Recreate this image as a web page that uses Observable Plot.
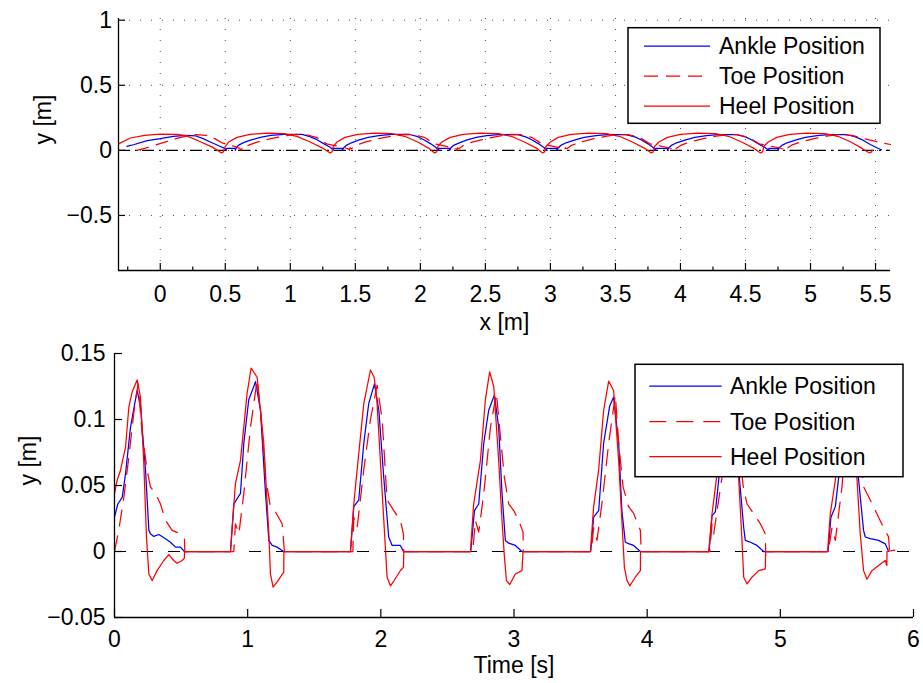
<!DOCTYPE html>
<html><head><meta charset="utf-8">
<script src="https://cdn.jsdelivr.net/npm/d3@7"></script>
<script src="https://cdn.jsdelivr.net/npm/@observablehq/plot@0.6"></script>
<style>
body{margin:0;background:#fff;}
#wrap{position:relative;width:923px;height:683px;font-family:"Liberation Sans",Arial,Helvetica,sans-serif;}
#wrap svg{display:block;}
#legend{position:absolute;left:0;top:0;pointer-events:none;}
</style></head><body><div id="wrap"></div>
<script>
// ---------- Data ----------
const seriesNames = ["Ankle Position", "Toe Position", "Heel Position"];
const seriesColors = ["#0000ff", "#ff0000", "#ff0000"];

// Top panel: foot trajectories, [x (m), y (m)]
const ankleXY = [
 [-0.256,0.031],[-0.2,0.045],[-0.1,0.075],[0,0.09],[0.1,0.108],[0.2,0.116],[0.27,0.112],[0.33,0.09],[0.385,0.064],[0.45,0.035],[0.495,0.015],[0.508,0],[0.508,0.015],[0.577,0.015],[0.577,0],
 [0.585,0.02],[0.6,0.038],[0.64,0.059],[0.7,0.08],[0.77,0.1],[0.85,0.115],[0.95,0.123],[1.09,0.123],[1.15,0.105],[1.205,0.082],[1.26,0.05],[1.31,0.022],[1.33,0],[1.33,0.015],[1.4,0.015],[1.4,0],
 [1.41,0.02],[1.43,0.038],[1.47,0.058],[1.53,0.08],[1.6,0.1],[1.68,0.114],[1.78,0.122],[1.92,0.122],[1.98,0.105],[2.03,0.08],[2.08,0.05],[2.12,0.022],[2.14,0],[2.14,0.015],[2.225,0.015],[2.225,0],
 [2.235,0.02],[2.255,0.038],[2.3,0.058],[2.36,0.08],[2.43,0.1],[2.51,0.113],[2.6,0.121],[2.75,0.121],[2.81,0.104],[2.86,0.08],[2.91,0.05],[2.95,0.022],[2.97,0],[2.97,0.015],[3.05,0.015],[3.05,0],
 [3.06,0.02],[3.08,0.038],[3.12,0.058],[3.19,0.08],[3.26,0.1],[3.35,0.113],[3.44,0.12],[3.58,0.12],[3.65,0.104],[3.7,0.08],[3.75,0.05],[3.79,0.022],[3.81,0],[3.81,0.015],[3.9,0.015],[3.9,0],
 [3.91,0.02],[3.93,0.038],[3.97,0.058],[4.04,0.08],[4.11,0.1],[4.2,0.113],[4.29,0.12],[4.43,0.12],[4.5,0.104],[4.55,0.08],[4.6,0.05],[4.65,0.022],[4.68,0],[4.68,0.015],[4.75,0.015],[4.75,0],
 [4.76,0.02],[4.78,0.038],[4.82,0.058],[4.89,0.08],[4.96,0.1],[5.05,0.113],[5.14,0.12],[5.28,0.12],[5.34,0.105],[5.4,0.08],[5.46,0.045],[5.51,0.02],[5.545,0.005]
];
const toeXY = [
 [-0.18,0],[-0.12,0.015],[-0.04,0.04],[0.04,0.065],[0.12,0.09],[0.2,0.11],[0.28,0.12],[0.35,0.115],[0.42,0.09],[0.47,0.06],[0.52,0.045],[0.57,0.03],[0.61,0.015],[0.625,0],
 [0.63,0.02],[0.64,0.013],[0.68,0.04],[0.75,0.065],[0.85,0.09],[0.95,0.11],[1.05,0.122],[1.12,0.12],[1.2,0.1],[1.28,0.05],[1.35,0.035],[1.42,0.02],[1.45,0.01],[1.455,0],
 [1.46,0.02],[1.47,0.013],[1.51,0.04],[1.58,0.065],[1.68,0.09],[1.78,0.11],[1.88,0.122],[1.95,0.12],[2.03,0.1],[2.11,0.05],[2.18,0.035],[2.25,0.02],[2.275,0.01],[2.28,0],
 [2.285,0.02],[2.295,0.013],[2.335,0.04],[2.405,0.065],[2.505,0.09],[2.605,0.11],[2.705,0.122],[2.775,0.12],[2.855,0.1],[2.935,0.05],[3.005,0.035],[3.075,0.02],[3.1,0.01],[3.11,0],
 [3.115,0.02],[3.125,0.013],[3.165,0.04],[3.235,0.065],[3.335,0.09],[3.435,0.11],[3.535,0.122],[3.605,0.12],[3.685,0.1],[3.765,0.05],[3.84,0.035],[3.91,0.02],[3.94,0.01],[3.95,0],
 [3.955,0.02],[3.965,0.013],[4.005,0.04],[4.075,0.065],[4.175,0.09],[4.275,0.11],[4.375,0.122],[4.445,0.12],[4.525,0.1],[4.605,0.05],[4.68,0.035],[4.76,0.02],[4.79,0.01],[4.8,0],
 [4.805,0.02],[4.815,0.013],[4.855,0.04],[4.925,0.065],[5.025,0.09],[5.125,0.11],[5.225,0.122],[5.32,0.115],[5.45,0.08],[5.615,0.045]
];
const heelXY = [
 [-0.32,0.05],[-0.23,0.095],[-0.12,0.115],[0,0.125],[0.13,0.122],[0.2,0.113],[0.3,0.07],[0.4,0.025],[0.46,-0.013],[0.47,-0.02],[0.485,-0.012],[0.49,0],
 [0.5,0.03],[0.526,0.064],[0.59,0.1],[0.69,0.123],[0.82,0.133],[0.95,0.128],[1.05,0.108],[1.154,0.064],[1.256,0.013],[1.295,-0.013],[1.305,-0.02],[1.32,-0.012],[1.325,0],
 [1.33,0.03],[1.36,0.064],[1.42,0.1],[1.52,0.123],[1.65,0.132],[1.78,0.128],[1.88,0.108],[1.98,0.064],[2.07,0.013],[2.1,-0.013],[2.11,-0.02],[2.125,-0.012],[2.13,0],
 [2.135,0.03],[2.165,0.064],[2.23,0.1],[2.33,0.123],[2.46,0.132],[2.6,0.128],[2.7,0.108],[2.8,0.064],[2.9,0.013],[2.93,-0.013],[2.94,-0.02],[2.955,-0.012],[2.96,0],
 [2.965,0.03],[3.0,0.064],[3.06,0.1],[3.16,0.123],[3.29,0.132],[3.43,0.128],[3.53,0.108],[3.63,0.064],[3.73,0.013],[3.765,-0.013],[3.775,-0.02],[3.79,-0.012],[3.795,0],
 [3.8,0.03],[3.835,0.064],[3.9,0.1],[4.0,0.123],[4.13,0.132],[4.27,0.128],[4.37,0.108],[4.47,0.064],[4.57,0.013],[4.605,-0.013],[4.615,-0.02],[4.63,-0.012],[4.635,0],
 [4.64,0.03],[4.675,0.064],[4.74,0.1],[4.84,0.123],[4.97,0.132],[5.11,0.128],[5.21,0.108],[5.31,0.064],[5.4,0.013],[5.44,-0.013],[5.455,-0.02],[5.47,-0.012],[5.475,0]
];

// Bottom panel: height vs time, [t (s), y (m)]
const ankleT = [
 [0,0.026],[0.025,0.036],[0.058,0.041],[0.083,0.059],[0.12,0.094],[0.17,0.122],[0.195,0.11],[0.233,0.0616],[0.258,0.016],[0.27,0.0134],[0.295,0.0114],[0.333,0.0129],[0.383,0.0096],[0.42,0.007],[0.458,0.0033],[0.495,0.0033],[0.525,0],
 [0.871,0],[0.896,0.036],[0.946,0.044],[0.971,0.082],[1.008,0.115],[1.059,0.1287],[1.096,0.107],[1.134,0.044],[1.159,0.0084],[1.184,0.0046],[1.221,0.0033],[1.27,0],
 [1.772,0],[1.797,0.034],[1.834,0.039],[1.872,0.082],[1.909,0.112],[1.952,0.127],[1.985,0.107],[2.022,0.056],[2.059,0.011],[2.085,0.0046],[2.147,0.0046],[2.17,0],
 [2.675,0],[2.703,0.031],[2.735,0.036],[2.773,0.082],[2.81,0.107],[2.853,0.1185],[2.885,0.094],[2.91,0.044],[2.935,0.0084],[2.96,0.0063],[3.01,0.0046],[3.06,0],
 [3.576,0],[3.598,0.026],[3.636,0.031],[3.673,0.082],[3.718,0.11],[3.748,0.117],[3.786,0.082],[3.81,0.031],[3.836,0.007],[3.86,0.006],[3.898,0.0046],[3.949,0],
 [4.465,0],[4.487,0.027],[4.512,0.03],[4.537,0.054],[4.58,0.1],[4.625,0.122],[4.66,0.1],[4.694,0.054],[4.725,0.018],[4.737,0.0084],[4.775,0.007],[4.825,0.0046],[4.875,0],
 [5.358,0],[5.38,0.026],[5.413,0.034],[5.438,0.056],[5.48,0.1],[5.52,0.125],[5.555,0.1],[5.588,0.054],[5.625,0.016],[5.638,0.011],[5.675,0.0097],[5.738,0.0084],[5.788,0.0058],[5.813,0]
];
const toeT = [
 [0,0],[0.032,0.016],[0.07,0.041],[0.108,0.0717],[0.145,0.105],[0.177,0.127],[0.208,0.089],[0.245,0.0616],[0.27,0.049],[0.308,0.044],[0.345,0.036],[0.383,0.0236],[0.433,0.016],[0.495,0.0134],[0.525,0.0097],[0.528,0],
 [0.896,0],[0.908,0.021],[0.934,0.0134],[0.971,0.044],[1.021,0.094],[1.071,0.13],[1.096,0.107],[1.134,0.056],[1.171,0.0337],[1.209,0.03],[1.259,0.021],[1.276,0],
 [1.79,0],[1.797,0.026],[1.822,0.018],[1.872,0.062],[1.922,0.1],[1.972,0.126],[2.01,0.1],[2.047,0.039],[2.097,0.031],[2.147,0.0236],[2.17,0.013],[2.172,0],
 [2.69,0],[2.71,0.0236],[2.735,0.0147],[2.773,0.044],[2.823,0.094],[2.868,0.12],[2.898,0.087],[2.928,0.056],[2.96,0.036],[2.998,0.031],[3.035,0.0236],[3.068,0.0147],[3.07,0],
 [3.58,0],[3.598,0.018],[3.623,0.0084],[3.66,0.036],[3.711,0.082],[3.761,0.1185],[3.786,0.082],[3.819,0.049],[3.861,0.034],[3.898,0.029],[3.949,0.016],[3.955,0],
 [4.47,0],[4.487,0.021],[4.5,0.0134],[4.56,0.055],[4.61,0.1],[4.65,0.125],[4.69,0.08],[4.72,0.05],[4.75,0.036],[4.8,0.0286],[4.85,0.021],[4.887,0.0134],[4.89,0],
 [5.36,0],[5.388,0.018],[5.413,0.0084],[5.463,0.049],[5.5,0.1],[5.54,0.125],[5.58,0.09],[5.625,0.049],[5.675,0.039],[5.725,0.0286],[5.775,0.018],[5.813,0.011],[5.82,0],[5.86,0]
];
const heelT = [
 [0,0.0438],[0.02,0.054],[0.045,0.0616],[0.083,0.079],[0.108,0.1097],[0.133,0.121],[0.17,0.13],[0.195,0.117],[0.22,0.067],[0.24,0.011],[0.258,-0.017],[0.283,-0.022],[0.32,-0.0145],[0.37,-0.0068],[0.408,-0.0023],[0.445,-0.0068],[0.47,-0.0089],[0.508,-0.0068],[0.525,-0.005],[0.526,0],
 [0.871,0],[0.908,0.0514],[0.946,0.069],[0.996,0.12],[1.026,0.139],[1.071,0.132],[1.121,0.082],[1.159,0.0134],[1.171,-0.017],[1.191,-0.027],[1.221,-0.023],[1.271,-0.0157],[1.272,0],
 [1.772,0],[1.797,0.036],[1.822,0.062],[1.872,0.112],[1.922,0.1375],[1.95,0.132],[1.97,0.115],[2.034,0.003],[2.047,-0.0195],[2.072,-0.026],[2.1,-0.022],[2.147,-0.0144],[2.17,-0.012],[2.172,0],
 [2.673,0],[2.697,0.036],[2.748,0.069],[2.785,0.115],[2.817,0.136],[2.848,0.125],[2.885,0.069],[2.91,0.0236],[2.928,-0.004],[2.943,-0.022],[2.968,-0.025],[3.01,-0.017],[3.06,-0.0145],[3.068,0],
 [3.574,0],[3.598,0.034],[3.636,0.062],[3.673,0.107],[3.711,0.129],[3.748,0.122],[3.786,0.069],[3.81,0.0236],[3.829,-0.012],[3.849,-0.022],[3.869,-0.026],[3.911,-0.0195],[3.949,-0.0145],[3.95,0],
 [4.462,0],[4.487,0.0284],[4.525,0.059],[4.56,0.1],[4.6,0.131],[4.64,0.12],[4.687,0.056],[4.712,0.0084],[4.725,-0.0195],[4.75,-0.0246],[4.787,-0.0195],[4.837,-0.0145],[4.887,-0.0132],[4.89,0],
 [5.355,0],[5.375,0.0284],[5.413,0.054],[5.45,0.1],[5.49,0.133],[5.53,0.12],[5.575,0.056],[5.6,0.0134],[5.625,-0.0145],[5.65,-0.021],[5.688,-0.0145],[5.738,-0.0106],[5.788,-0.0068],[5.8,-0.0106],[5.801,0],[5.86,0.001]
];

// Axes / ticks
const topXDomain = [-0.321, 5.615];
const topYDomain = [-0.923, 1.013];
const topXTicks = [0, 0.5, 1, 1.5, 2, 2.5, 3, 3.5, 4, 4.5, 5, 5.5];
const topXMinorTicks = [-0.25, 0.25, 0.75, 1.25, 1.75, 2.25, 2.75, 3.25, 3.75, 4.25, 4.75, 5.25];
const topYTicks = [-0.5, 0, 0.5, 1];
const botXDomain = [0, 6];
const botYDomain = [-0.05, 0.15];
const botXTicks = [0, 1, 2, 3, 4, 5, 6];
const botYTicks = [-0.05, 0, 0.05, 0.1, 0.15];
const labels = {topX: "x [m]", topY: "y [m]", botX: "Time [s]", botY: "y [m]"};

// ---------- Drawing ----------
const FONT = "'Liberation Sans', Arial, Helvetica, sans-serif";
const fmt = d => String(d).replace("-", "\u2212");
const px = d => d[0], py = d => d[1];
const style = {fontSize: "23px", fontFamily: FONT, background: "white", color: "black", overflow: "visible"};
const lineW = 1.25;

const topPlot = Plot.plot({
  width: 923, height: 340,
  marginLeft: 118, marginRight: 33, marginTop: 18, marginBottom: 70,
  style,
  x: {domain: topXDomain},
  y: {domain: topYDomain},
  marks: [
    Plot.gridX(topXTicks, {stroke: "#222", strokeOpacity: 0.8, strokeDasharray: "1,10"}),
    Plot.gridY(topYTicks, {stroke: "#222", strokeOpacity: 0.8, strokeDasharray: "1,10"}),
    Plot.ruleY([0], {stroke: "black", strokeWidth: 1.2, strokeDasharray: "12,5,2,5"}),
    Plot.line(ankleXY, {x: px, y: py, stroke: seriesColors[0], strokeWidth: lineW}),
    Plot.line(toeXY, {x: px, y: py, stroke: seriesColors[1], strokeWidth: lineW, strokeDasharray: "12,8"}),
    Plot.line(heelXY, {x: px, y: py, stroke: seriesColors[2], strokeWidth: lineW}),
    Plot.ruleY([topYDomain[0]], {stroke: "black", strokeWidth: 1.3}),
    Plot.ruleX([topXDomain[0]], {stroke: "black", strokeWidth: 1.3}),
    Plot.axisX(topXTicks, {anchor: "bottom", tickSize: 7, dy: -7, tickFormat: () => "", label: null, strokeWidth: 1.2}),
    Plot.axisX(topXMinorTicks, {anchor: "bottom", tickSize: 3.5, dy: -3.5, tickFormat: () => "", label: null, strokeWidth: 1.2}),
    Plot.axisY(topYTicks, {anchor: "left", tickSize: 7, dx: 7, tickFormat: () => "", label: null, strokeWidth: 1.2}),
    Plot.axisX(topXTicks, {anchor: "bottom", tickSize: 0, tickPadding: 15, tickFormat: fmt, label: null, fontSize: 23}),
    Plot.axisY(topYTicks, {anchor: "left", tickSize: 0, tickPadding: 6.5, tickFormat: fmt, label: null, fontSize: 23}),
    Plot.text([labels.topX], {frameAnchor: "bottom", dy: 52, fontSize: 23, lineAnchor: "middle"}),
    Plot.text([labels.topY], {frameAnchor: "left", dx: -75, rotate: -90, fontSize: 23, lineAnchor: "middle"})
  ]
});

const botPlot = Plot.plot({
  width: 923, height: 343,
  marginLeft: 114, marginRight: 10, marginTop: 13, marginBottom: 66,
  style,
  x: {domain: botXDomain},
  y: {domain: botYDomain},
  marks: [
    Plot.ruleY([0], {stroke: "black", strokeWidth: 1.2, strokeDasharray: "12,15"}),
    Plot.line(ankleT, {x: px, y: py, stroke: seriesColors[0], strokeWidth: lineW}),
    Plot.line(toeT, {x: px, y: py, stroke: seriesColors[1], strokeWidth: lineW, strokeDasharray: "16,10"}),
    Plot.line(heelT, {x: px, y: py, stroke: seriesColors[2], strokeWidth: lineW}),
    Plot.ruleY([botYDomain[0]], {stroke: "black", strokeWidth: 1.3}),
    Plot.ruleX([botXDomain[0]], {stroke: "black", strokeWidth: 1.3}),
    Plot.axisX(botXTicks, {anchor: "bottom", tickSize: 8, dy: -8, tickFormat: () => "", label: null, strokeWidth: 1.2}),
    Plot.axisY(botYTicks, {anchor: "left", tickSize: 8, dx: 8, tickFormat: () => "", label: null, strokeWidth: 1.2}),
    Plot.axisX(botXTicks, {anchor: "bottom", tickSize: 0, tickPadding: 13, tickFormat: fmt, label: null, fontSize: 23}),
    Plot.axisY(botYTicks, {anchor: "left", tickSize: 0, tickPadding: 9, tickFormat: fmt, label: null, fontSize: 23}),
    Plot.text([labels.botX], {frameAnchor: "bottom", dy: 48, fontSize: 23, lineAnchor: "middle"}),
    Plot.text([labels.botY], {frameAnchor: "left", dx: -86, rotate: -90, fontSize: 23, lineAnchor: "middle"})
  ]
});

const wrap = document.getElementById("wrap");
wrap.appendChild(topPlot);
wrap.appendChild(botPlot);

// ---------- Legends (MATLAB-style boxes) ----------
const leg = d3.select(wrap).append("svg").attr("id", "legend")
  .attr("width", 923).attr("height", 683);
function drawLegend(box, rows, sample, textX, dash) {
  const g = leg.append("g");
  g.append("rect").attr("x", box[0]).attr("y", box[1]).attr("width", box[2]).attr("height", box[3])
    .attr("fill", "white").attr("stroke", "black").attr("stroke-width", 1.5);
  seriesNames.forEach((name, i) => {
    g.append("line").attr("x1", sample[0]).attr("x2", sample[1]).attr("y1", rows[i]).attr("y2", rows[i])
      .attr("stroke", seriesColors[i]).attr("stroke-width", 1.25)
      .attr("stroke-dasharray", i === 1 ? dash : null);
    g.append("text").attr("x", textX).attr("y", rows[i]).attr("dy", "0.35em")
      .attr("font-family", FONT).attr("font-size", 23).attr("fill", "black").text(name);
  });
}
drawLegend([628, 27.7, 252, 95.6], [46, 76, 106], [644, 710], 719, "14,8");
drawLegend([635, 364.3, 268, 112.4], [386, 421.7, 456.7], [649.3, 721.7], 730, "17,10");
</script></body></html>
